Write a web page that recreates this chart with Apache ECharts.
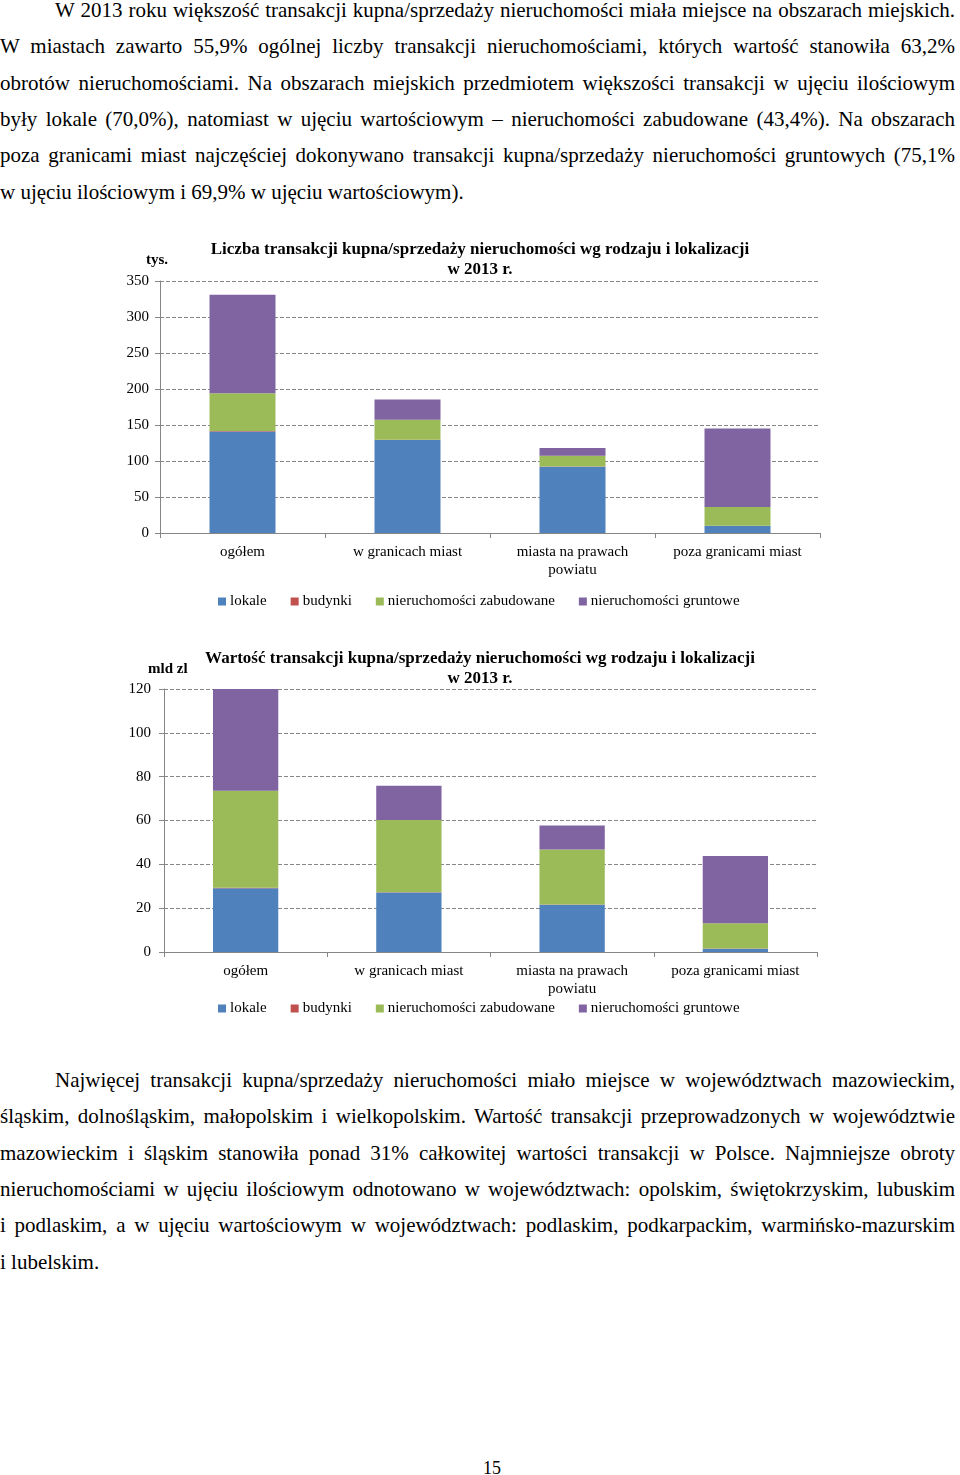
<!DOCTYPE html>
<html>
<head>
<meta charset="utf-8">
<script src="https://cdn.jsdelivr.net/npm/echarts@6/dist/echarts.min.js"></script>
<style>
  html, body { margin:0; padding:0; background:#fff; }
  body { width:960px; height:1475px; position:relative; overflow:hidden; font-family:"Liberation Serif", "Times New Roman", serif; color:#000; }
  .ln { position:absolute; left:0; width:955px; font-size:21px; line-height:21px; white-space:nowrap; text-align:justify; text-align-last:justify; }
  .ln.ind { left:55px; width:900px; }
  .ln.last { text-align:left; text-align-last:left; }
  .chart { position:absolute; left:0; width:960px; height:400px; }
  #pg { position:absolute; left:0; width:960px; top:1459px; text-align:center; font-size:18px; line-height:18px; padding-left:24px; box-sizing:border-box; }
</style>
</head>
<body>
<div id="text1"></div>
<div id="chart1" class="chart" style="top:230px"></div>
<div id="chart2" class="chart" style="top:640px"></div>
<div id="text2"></div>
<div id="pg">15</div>
<script>
// ---- Data ----
const categories = ['ogółem', 'w granicach miast', 'miasta na prawach\npowiatu', 'poza granicami miast'];
const seriesNames = ['lokale', 'budynki', 'nieruchomości zabudowane', 'nieruchomości gruntowe'];
const seriesColors = ['#4F81BD', '#C0504D', '#9BBB59', '#8064A2'];

// Chart 1: number of transactions (thousands)
const countLokale   = [141, 129, 92, 10];
const countBudynki  = [0.5, 0.4, 0.2, 0.1];
const countZabud    = [52.5, 28, 15, 26];
const countGrunt    = [137, 28, 11, 109];
const countTicks    = { min: 0, max: 350, interval: 50 };

// Chart 2: value of transactions (bn zl)
const valueLokale   = [29.1, 27.1, 21.6, 1.5];
const valueBudynki  = [0.2, 0.15, 0.1, 0.05];
const valueZabud    = [44.3, 33.0, 25.1, 11.6];
const valueGrunt    = [46.4, 15.6, 10.9, 30.6];
const valueTicks    = { min: 0, max: 120, interval: 20 };

const title1 = 'Liczba transakcji kupna/sprzedaży nieruchomości wg rodzaju i lokalizacji\nw 2013 r.';
const title2 = 'Wartość transakcji kupna/sprzedaży nieruchomości wg rodzaju i lokalizacji\nw 2013 r.';
const unit1 = 'tys.';
const unit2 = 'mld zl';

const para1 = [
  'W 2013 roku większość transakcji kupna/sprzedaży nieruchomości miała miejsce na obszarach miejskich.',
  'W miastach zawarto 55,9% ogólnej liczby transakcji nieruchomościami, których wartość stanowiła 63,2%',
  'obrotów nieruchomościami. Na obszarach miejskich przedmiotem większości transakcji w ujęciu ilościowym',
  'były lokale (70,0%), natomiast w ujęciu wartościowym – nieruchomości zabudowane (43,4%). Na obszarach',
  'poza granicami miast najczęściej dokonywano transakcji kupna/sprzedaży nieruchomości gruntowych (75,1%',
  'w ujęciu ilościowym i 69,9% w ujęciu wartościowym).'
];
const para2 = [
  'Najwięcej transakcji kupna/sprzedaży nieruchomości miało miejsce w województwach mazowieckim,',
  'śląskim, dolnośląskim, małopolskim i wielkopolskim. Wartość transakcji przeprowadzonych w województwie',
  'mazowieckim i śląskim stanowiła ponad 31% całkowitej wartości transakcji w Polsce. Najmniejsze obroty',
  'nieruchomościami w ujęciu ilościowym odnotowano w województwach: opolskim, świętokrzyskim, lubuskim',
  'i podlaskim, a w ujęciu wartościowym w województwach: podlaskim, podkarpackim, warmińsko-mazurskim',
  'i lubelskim.'
];

// ---- Text ----
function writePara(el, lines, top0) {
  const step = 36.3;
  lines.forEach((t, i) => {
    const d = document.createElement('div');
    d.className = 'ln' + (i === 0 ? ' ind' : '') + (i === lines.length - 1 ? ' last' : '');
    d.style.top = (top0 + i * step) + 'px';
    d.textContent = t;
    el.appendChild(d);
  });
}
writePara(document.getElementById('text1'), para1, 0);
writePara(document.getElementById('text2'), para2, 1070);

// ---- Charts ----
const FONT = '"Liberation Serif", "Times New Roman", serif';
const GRAY = '#868686';

function makeOption(cfg) {
  const data = cfg.data;
  return {
    animation: false,
    title: {
      text: cfg.title,
      left: 'center',
      top: cfg.titleTop,
      padding: 0,
      textStyle: { fontFamily: FONT, fontWeight: 'bold', fontSize: 17, lineHeight: 19.5, color: '#000' }
    },
    graphic: [{
      type: 'text', left: cfg.unitLeft, top: cfg.unitTop,
      style: { text: cfg.unit, font: 'bold 15px ' + FONT, fill: '#000' }
    }],
    legend: {
      data: seriesNames,
      left: 218, top: cfg.legendTop, padding: 0,
      icon: 'rect', itemWidth: 8, itemHeight: 8, itemGap: 24,
      textStyle: { fontFamily: FONT, fontSize: 15, color: '#000', padding: [0, 0, 0, -1] },
      selectedMode: false
    },
    grid: { left: cfg.grid.left, width: cfg.grid.width, top: cfg.grid.top, height: cfg.grid.height },
    xAxis: {
      type: 'category',
      data: categories,
      axisLine: { show: true, lineStyle: { color: GRAY, width: 1 } },
      axisTick: { show: true, length: 5, alignWithLabel: false, lineStyle: { color: GRAY } },
      axisLabel: { interval: 0, fontFamily: FONT, fontSize: 15, color: '#000', margin: 10, lineHeight: 18 },
      splitLine: { show: false }
    },
    yAxis: {
      type: 'value',
      min: cfg.ticks.min, max: cfg.ticks.max, interval: cfg.ticks.interval,
      axisLine: { show: true, lineStyle: { color: GRAY, width: 1 } },
      axisTick: { show: true, length: 5, lineStyle: { color: GRAY } },
      axisLabel: { fontFamily: FONT, fontSize: 15, color: '#000', margin: cfg.labelMargin },
      splitLine: { show: true, lineStyle: { color: GRAY, type: [4, 2], width: 1 } }
    },
    series: seriesNames.map((n, i) => ({
      name: n, type: 'bar', stack: 'total', barWidth: '40%',
      data: data[i],
      itemStyle: { color: seriesColors[i] }
    }))
  };
}

const c1 = echarts.init(document.getElementById('chart1'), null, { renderer: 'canvas' });
c1.setOption(makeOption({
  title: title1, titleTop: 10, unit: unit1, unitLeft: 146, unitTop: 23,
  legendTop: 364, labelMargin: 11,
  grid: { left: 160, width: 660, top: 51, height: 252 },
  ticks: countTicks,
  data: [countLokale, countBudynki, countZabud, countGrunt]
}));

const c2 = echarts.init(document.getElementById('chart2'), null, { renderer: 'canvas' });
c2.setOption(makeOption({
  title: title2, titleTop: 9, unit: unit2, unitLeft: 148, unitTop: 22,
  legendTop: 361, labelMargin: 13,
  grid: { left: 164, width: 653, top: 49, height: 263 },
  ticks: valueTicks,
  data: [valueLokale, valueBudynki, valueZabud, valueGrunt]
}));
</script>
</body>
</html>
